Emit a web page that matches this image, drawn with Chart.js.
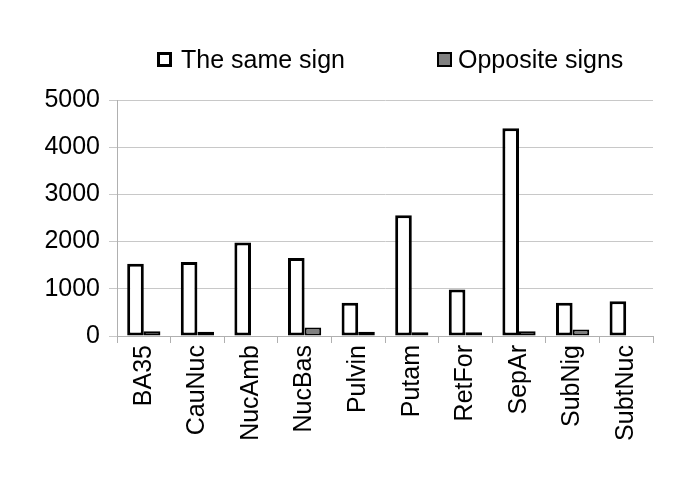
<!DOCTYPE html>
<html>
<head>
<meta charset="utf-8">
<script src="https://cdn.jsdelivr.net/npm/chart.js@4"></script>
<style>
  html, body { margin: 0; padding: 0; background: #fff; }
  #wrap { width: 685px; height: 486px; }
</style>
</head>
<body>
<div id="wrap"><canvas id="chart"></canvas></div>
<script>
// data
const categories = ["BA35", "CauNuc", "NucAmb", "NucBas", "Pulvin", "Putam", "RetFor", "SepAr", "SubNig", "SubtNuc"];
const sameSign = [1530, 1570, 1980, 1650, 705, 2560, 985, 4400, 705, 735];
const oppositeSigns = [100, 90, 10, 180, 90, 80, 80, 100, 140, 10];
const yTicks = [0, 1000, 2000, 3000, 4000, 5000];

const FONT = "'Liberation Sans', Arial, sans-serif";

// legend drawn by hand so the spacing matches
const legendPlugin = {
  id: "topLegend",
  afterDraw(chart) {
    const ctx = chart.ctx;
    const items = [
      { x: 157, tx: 181, ds: chart.data.datasets[0] },
      { x: 437, tx: 458, ds: chart.data.datasets[1] },
    ];
    ctx.save();
    ctx.font = "25px " + FONT;
    ctx.textBaseline = "middle";
    items.forEach(function (it) {
      const lw = it.ds.borderWidth;
      ctx.fillStyle = it.ds.backgroundColor;
      ctx.fillRect(it.x, 52, 15, 15);
      ctx.lineWidth = lw;
      ctx.strokeStyle = "#000";
      ctx.strokeRect(it.x + lw / 2, 52 + lw / 2, 15 - lw, 15 - lw);
      ctx.fillStyle = "#000";
      ctx.fillText(it.ds.label, it.tx, 61);
    });
    ctx.restore();
  },
};

new Chart(document.getElementById("chart"), {
  type: "bar",
  data: {
    labels: categories,
    datasets: [
      {
        label: "The same sign",
        data: sameSign,
        backgroundColor: "#ffffff",
        borderColor: "#000000",
        borderWidth: 3,
        borderSkipped: false,
        categoryPercentage: 0.62,
        barPercentage: 1.0,
      },
      {
        label: "Opposite signs",
        data: oppositeSigns,
        backgroundColor: "#808080",
        borderColor: "#000000",
        borderWidth: 2,
        borderSkipped: false,
        categoryPercentage: 0.62,
        barPercentage: 1.0,
      },
    ],
  },
  options: {
    responsive: true,
    maintainAspectRatio: false,
    animation: false,
    layout: { padding: { top: 100, right: 32, bottom: 0, left: 0 } },
    plugins: {
      legend: { display: false },
      tooltip: { enabled: false },
    },
    scales: {
      x: {
        offset: true,
        grid: {
          offset: true,
          drawOnChartArea: false,
          color: "#b0b0b0",
          tickLength: 7,
        },
        border: { color: "#b0b0b0" },
        ticks: {
          color: "#000",
          font: { family: FONT, size: 25 },
          minRotation: 90,
          maxRotation: 90,
          padding: 2,
        },
        afterFit(scale) {
          scale.height = 150;
        },
      },
      y: {
        min: 0,
        max: 5000,
        afterBuildTicks(scale) {
          scale.ticks = yTicks.map(function (v) { return { value: v }; });
        },
        grid: { color: "#c8c8c8", tickLength: 8 },
        border: { color: "#b0b0b0" },
        ticks: {
          color: "#000",
          font: { family: FONT, size: 25 },
          padding: 9,
          callback: function (v) { return String(v); },
        },
        afterFit(scale) {
          scale.width = 117;
        },
      },
    },
  },
  plugins: [legendPlugin],
});
</script>
</body>
</html>
